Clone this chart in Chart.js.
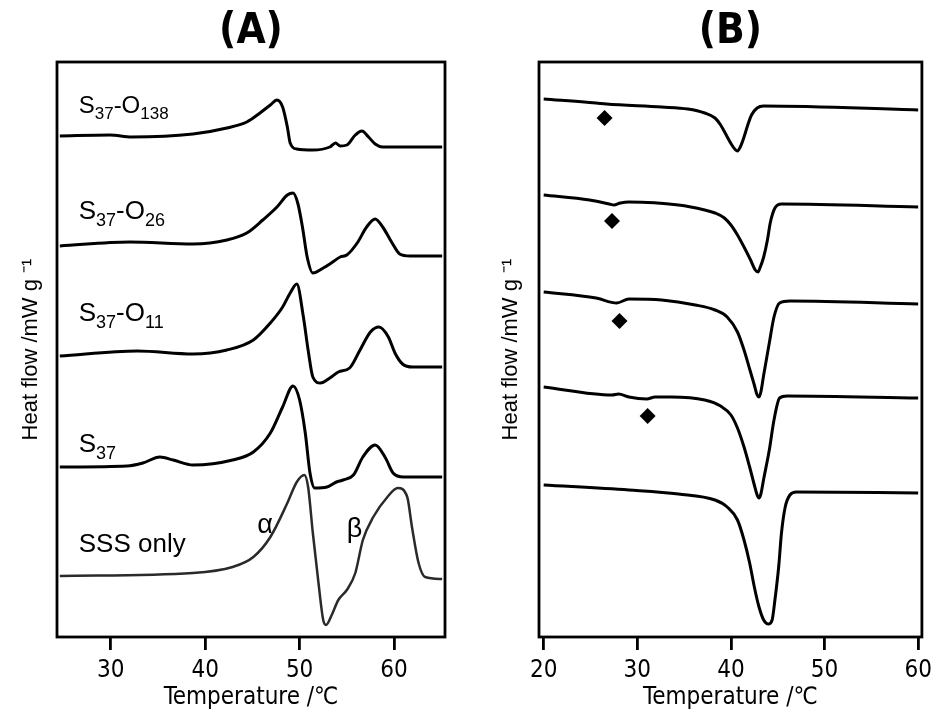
<!DOCTYPE html>
<html>
<head>
<meta charset="utf-8">
<script src="https://cdn.jsdelivr.net/npm/chart.js"></script>
<style>
  body { margin: 0; background: #fff; }
  .panel { position: absolute; top: 0; width: 469px; height: 711px; }
</style>
</head>
<body>
<div class="panel" style="left:0px"><canvas id="panel_a"></canvas></div>
<div class="panel" style="left:469px"><canvas id="panel_b"></canvas></div>
<script>
// panel (A): heating curves, temperature in degC and heat flow in arbitrary units (offset per curve)
var a_o138_t = [24.6, 29.9, 32.2, 38.7, 42.3, 44.4, 45.8, 46.9, 47.6, 48.2, 48.7, 49.0, 49.7, 51.4, 53.2, 53.8, 54.3, 55.0, 55.9, 56.6, 57.3, 58.0, 58.8, 65.1];
var a_o138_h = [501, 502, 500, 503, 509, 515, 524, 532, 537, 530, 510, 494, 488, 487, 490, 494, 491, 492, 502, 506, 500, 493, 490, 490];

var a_o26_t = [24.6, 32.0, 38.7, 42.3, 44.4, 46.1, 47.6, 48.7, 49.3, 49.8, 50.3, 50.8, 51.4, 52.5, 53.5, 54.3, 55.0, 56.1, 57.1, 58.0, 58.8, 59.8, 60.6, 61.7, 65.1];
var a_o26_h = [391, 395, 393, 397, 404, 417, 430, 442, 444, 434, 410, 380, 364, 369, 375, 380, 382, 394, 410, 418, 410, 394, 383, 381, 381];

var a_o11_t = [24.6, 32.8, 38.7, 42.3, 45.1, 46.9, 48.2, 49.0, 49.7, 50.4, 50.9, 51.4, 52.2, 53.2, 54.1, 55.3, 56.4, 57.5, 58.4, 59.4, 60.1, 60.9, 62.0, 65.1];
var a_o11_h = [281, 286, 283, 287, 297, 314, 330, 344, 353, 320, 287, 260, 254, 259, 265, 269, 287, 305, 310, 300, 284, 273, 270, 270];

var a_s37_t = [24.6, 31.7, 33.4, 35.2, 36.6, 38.7, 42.9, 45.1, 46.9, 48.2, 49.3, 50.0, 50.6, 51.1, 51.6, 52.9, 53.9, 54.6, 55.7, 56.7, 58.0, 59.1, 59.9, 61.0, 65.1];
var a_s37_h = [170, 171, 174, 180, 177, 172, 177, 185, 204, 230, 251, 237, 204, 164, 149, 150, 155, 157, 162, 180, 192, 179, 164, 160, 160];

var a_sss_t = [24.6, 38.7, 42.9, 45.1, 46.9, 48.7, 49.7, 50.5, 50.9, 51.4, 52.0, 52.5, 52.8, 53.4, 54.1, 55.0, 55.9, 56.7, 57.8, 59.3, 60.4, 61.4, 61.9, 62.6, 63.3, 65.1];
var a_sss_h = [61, 64, 70, 80, 100, 134, 155, 162, 150, 104, 54, 17, 12, 22, 37, 47, 64, 97, 120, 140, 149, 140, 110, 74, 60, 58];

// panel (B): cooling curves
var b1_t = [20.0, 25.6, 26.7, 32.6, 35.4, 37.2, 38.3, 38.9, 39.5, 40.1, 40.5, 40.7, 41.0, 41.4, 41.8, 42.2, 42.8, 43.5, 60.0];
var b1_h = [538, 534, 533, 530, 528, 524, 519, 512, 502, 492, 487, 486, 490, 500, 512, 522, 529, 531, 527];

var b2_t = [20.0, 24.9, 27.0, 27.5, 28.2, 29.1, 34.4, 37.2, 38.3, 39.3, 40.0, 40.7, 41.4, 42.1, 42.6, 42.9, 43.1, 43.5, 43.9, 44.2, 44.7, 45.4, 60.0];
var b2_h = [442, 437, 433, 432, 434, 435, 432, 427, 424, 419, 412, 402, 390, 377, 367, 365, 369, 380, 397, 414, 429, 433, 430];

var b3_t = [20.0, 25.6, 27.8, 29.1, 32.6, 36.2, 38.3, 39.6, 40.7, 41.4, 42.0, 42.5, 42.8, 43.0, 43.2, 43.5, 44.1, 44.6, 45.2, 46.3, 60.0];
var b3_h = [345, 339, 334, 338, 337, 332, 327, 320, 305, 287, 268, 252, 242, 240, 245, 262, 294, 320, 334, 336, 333];

var b4_t = [20.0, 27.3, 28.0, 29.1, 31.0, 31.9, 33.6, 37.2, 38.9, 40.0, 40.7, 41.4, 42.0, 42.5, 42.8, 43.0, 43.2, 43.5, 44.1, 44.6, 45.2, 46.0, 60.0];
var b4_h = [250, 242, 243, 240, 238, 240, 240, 237, 231, 222, 209, 190, 170, 152, 142, 139, 143, 158, 187, 217, 239, 241, 239];

var b5_t = [20.0, 29.1, 34.4, 38.3, 39.6, 40.7, 41.4, 42.0, 42.5, 43.0, 43.5, 44.0, 44.4, 44.7, 45.1, 45.4, 45.8, 46.3, 47.0, 60.0];
var b5_h = [152, 147, 143, 137, 130, 117, 97, 74, 50, 30, 17, 13, 17, 37, 70, 104, 130, 142, 145, 144];

// diamond markers in (B)
var diamond_t = [26.5, 27.3, 28.1, 31.1];
var diamond_h = [519, 416, 316, 221];

var ticks_a = [30, 40, 50, 60];
var ticks_b = [20, 30, 40, 50, 60];

var narrow = '"Liberation Sans Narrow", "DejaVu Sans Condensed", Arial, sans-serif';
var plain = '"Liberation Sans", Arial, sans-serif';

Chart.defaults.color = '#000';
Chart.defaults.font.family = narrow;

function pairs(ts, hs) {
    var out = [];
    for (var i = 0; i < ts.length; i++) {
        out.push({x: ts[i], y: hs[i]});
    }
    return out;
}

function curve(ts, hs, color, width) {
    return {
        data: pairs(ts, hs),
        borderColor: color,
        borderWidth: width,
        pointRadius: 0,
        cubicInterpolationMode: 'monotone',
        fill: false
    };
}

// frame, panel letter and the curve labels
var panelText = {
    id: 'panelText',
    afterDraw: function(chart, args, opts) {
        var ctx = chart.ctx;
        var a = chart.chartArea;
        ctx.save();
        ctx.strokeStyle = '#000';
        ctx.lineWidth = 2.8;
        ctx.strokeRect(a.left, a.top, a.right - a.left, a.bottom - a.top);

        ctx.fillStyle = '#000';
        ctx.font = 'bold 42px ' + narrow;
        ctx.textAlign = 'center';
        ctx.textBaseline = 'middle';
        ctx.fillText(opts.title, (a.left + a.right) / 2, 32);

        ctx.textAlign = 'left';
        ctx.textBaseline = 'alphabetic';
        var notes = opts.notes || [];
        for (var i = 0; i < notes.length; i++) {
            var n = notes[i];
            var px = chart.scales.x.getPixelForValue(n.x);
            var py = chart.scales.y.getPixelForValue(n.y);
            for (var j = 0; j < n.parts.length; j++) {
                var sub = n.parts[j][1];
                ctx.font = (sub ? n.sub : n.size) + 'px ' + plain;
                ctx.fillText(n.parts[j][0], px, py + (sub ? n.sub * 0.38 : 0));
                px += ctx.measureText(n.parts[j][0]).width;
            }
        }
        ctx.restore();
    }
};

function make_chart(canvas, datasets, xmin, xmax, tick_list, yaxis_width, pad_right, title_pad, title, notes) {
    return new Chart(canvas, {
        type: 'line',
        data: {datasets: datasets},
        plugins: [panelText],
        options: {
            responsive: true,
            maintainAspectRatio: false,
            animation: false,
            devicePixelRatio: 1,
            layout: {padding: {left: 0, right: pad_right, top: 62, bottom: 0}},
            plugins: {
                legend: {display: false},
                tooltip: {enabled: false},
                panelText: {title: title, notes: notes}
            },
            scales: {
                x: {
                    type: 'linear',
                    min: xmin,
                    max: xmax,
                    afterBuildTicks: function(axis) {
                        axis.ticks = tick_list.map(function(v) { return {value: v}; });
                    },
                    afterFit: function(axis) { axis.height = 74; },
                    grid: {display: true, drawOnChartArea: false, drawTicks: true, tickLength: 13, lineWidth: 2.8, color: '#000'},
                    border: {display: false},
                    ticks: {padding: 6, font: {size: 24}, maxRotation: 0},
                    title: {display: true, text: 'Temperature /\u2103', font: {size: 24, lineHeight: 1}, padding: {top: 0, bottom: 1}}
                },
                y: {
                    min: 0,
                    max: 575,
                    afterFit: function(axis) { axis.width = yaxis_width; },
                    grid: {display: false},
                    border: {display: false},
                    ticks: {display: false},
                    title: {display: true, text: 'Heat flow /mW g \u207B\u00B9', font: {size: 22, lineHeight: 1, family: plain}, padding: {top: title_pad, bottom: 0}}
                }
            }
        }
    });
}

var notes_a = [
    {x: 26.6, y: 524, size: 24, sub: 17, parts: [['S', 0], ['37', 1], ['-O', 0], ['138', 1]]},
    {x: 26.6, y: 418, size: 26, sub: 18, parts: [['S', 0], ['37', 1], ['-O', 0], ['26', 1]]},
    {x: 26.6, y: 316, size: 26, sub: 18, parts: [['S', 0], ['37', 1], ['-O', 0], ['11', 1]]},
    {x: 26.6, y: 185, size: 26, sub: 18, parts: [['S', 0], ['37', 1]]},
    {x: 26.6, y: 85, size: 26, sub: 18, parts: [['SSS only', 0]]},
    {x: 45.5, y: 104, size: 27, sub: 18, parts: [['\u03B1', 0]]},
    {x: 55.0, y: 100, size: 27, sub: 18, parts: [['\u03B2', 0]]}
];

var sets_a = [
    curve(a_o138_t, a_o138_h, '#000', 3),
    curve(a_o26_t, a_o26_h, '#000', 3),
    curve(a_o11_t, a_o11_h, '#000', 3),
    curve(a_s37_t, a_s37_h, '#000', 3),
    curve(a_sss_t, a_sss_h, '#2a2a2a', 2.5)
];

var diamonds = {
    data: pairs(diamond_t, diamond_h),
    showLine: false,
    pointStyle: 'rectRot',
    pointRadius: 8,
    pointBackgroundColor: '#000',
    pointBorderColor: '#000',
    pointBorderWidth: 0
};

var sets_b = [
    curve(b1_t, b1_h, '#000', 3),
    curve(b2_t, b2_h, '#000', 3),
    curve(b3_t, b3_h, '#000', 3),
    curve(b4_t, b4_h, '#000', 3),
    curve(b5_t, b5_h, '#000', 3),
    diamonds
];

make_chart(document.getElementById('panel_a'), sets_a, 24.3, 65.4, ticks_a, 57, 24, 20, '(A)', notes_a);
make_chart(document.getElementById('panel_b'), sets_b, 19.5, 60.4, ticks_b, 70, 11, 31, '(B)', []);
</script>
</body>
</html>
